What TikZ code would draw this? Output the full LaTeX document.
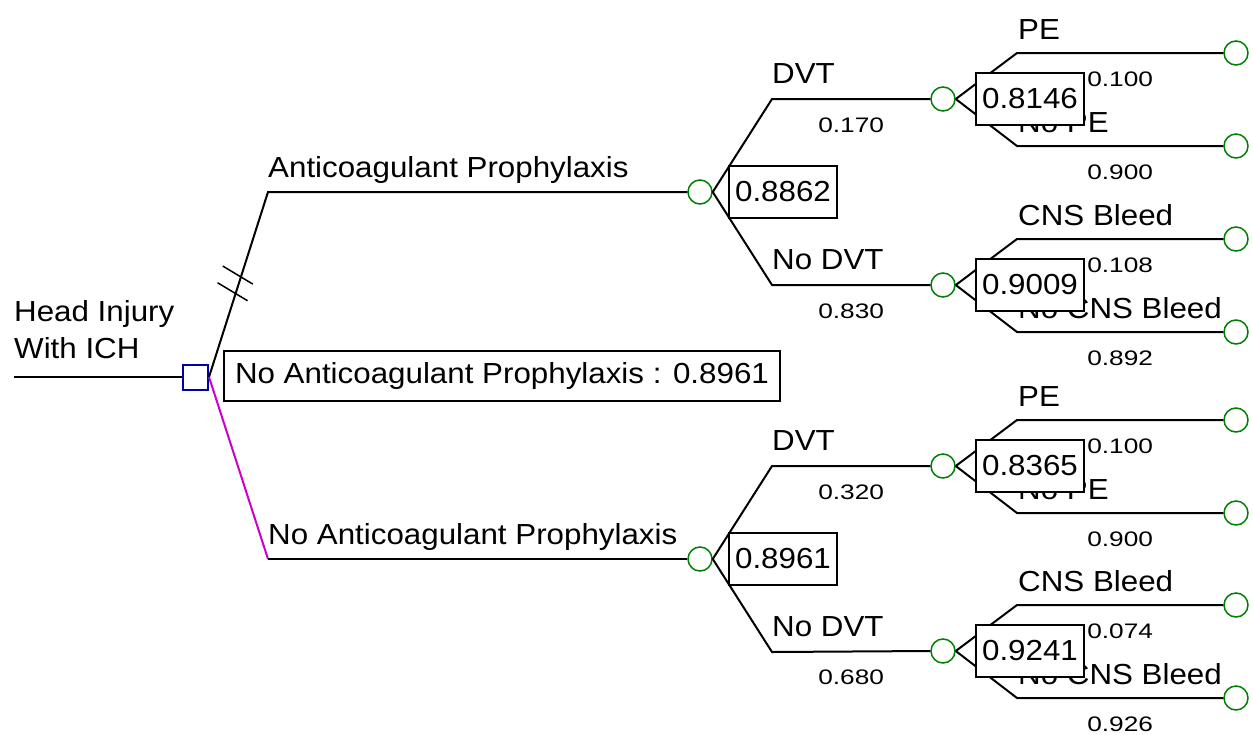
\documentclass[tikz,border=0pt]{standalone}
\usepackage{fontspec}
\setmainfont{Liberation Sans}[FakeStretch=1.08]
\newfontfamily\probfont{Liberation Sans}[FakeStretch=1.25]
\usetikzlibrary{calc}

\definecolor{chancegreen}{RGB}{0,128,0}
\definecolor{decblue}{RGB}{0,0,170}
\definecolor{optmagenta}{RGB}{204,0,204}

\tikzset{
  edge/.style={line width=2pt, draw=black},
  pickedge/.style={line width=2pt, draw=optmagenta},
  chance/.style={circle, draw=chancegreen, line width=1.5pt, minimum size=24pt, inner sep=0pt, fill=white},
  decision/.style={rectangle, draw=decblue, line width=2pt, minimum size=25pt, inner sep=0pt, fill=white},
  valbox/.style={rectangle, draw=black, fill=white, line width=2pt, minimum width=108pt, minimum height=52pt, inner sep=0pt, font=\fontsize{29}{34}\selectfont},
  blabel/.style={anchor=base west, inner sep=0pt, font=\fontsize{29}{34}\selectfont},
  plabel/.style={anchor=base, inner sep=0pt, font=\probfont\fontsize{21}{24}\selectfont},
}

% second-level chance node with two terminal outcomes
% #1 name, #2 y, #3 value, #4/#5 upper label/prob, #6/#7 lower label/prob
\newcommand{\outcomepair}[7]{%
  \node[chance] (#1) at (943,#2) {};
  \coordinate (#1u) at (1017,#2-46);
  \coordinate (#1l) at (1017,#2+47);
  \node[chance] (#1ut) at (1236,#2-46) {};
  \node[chance] (#1lt) at (1236,#2+47) {};
  \draw[edge] (#1.east) -- (#1u) -- (#1ut.west);
  \draw[edge] (#1.east) -- (#1l) -- (#1lt.west);
  \node[blabel] (#1ulab) at ($(#1u)+(1,-14)$) {#4};
  \node[plabel] (#1uprob) at ($(#1u)!0.5!(#1ut.west)+(0,33)$) {#5};
  \node[blabel] (#1llab) at ($(#1l)+(1,-14)$) {#6};
  \node[plabel] (#1lprob) at ($(#1l)!0.5!(#1lt.west)+(0,33)$) {#7};
  \node[valbox] (#1val) at (1030,#2) {#3};
}

% first-level chance node with DVT / No DVT branches
% #1 name, #2 y, #3 value, #4 DVT prob, #5 No DVT prob, #6/#7 child names
\newcommand{\dvtsplit}[7]{%
  \coordinate (#1u) at (772,#2-93);
  \coordinate (#1l) at (772,#2+93);
  \draw[edge] (#1.east) -- (#1u) -- (#6.west);
  \draw[edge] (#1.east) -- (#1l) -- (#7.west);
  \node[blabel] (#1ulab) at ($(#1u)+(0,-16)$) {DVT};
  \node[plabel] (#1uprob) at ($(#1u)!0.5!(#6.west)+(0,33)$) {#4};
  \node[blabel] (#1llab) at ($(#1l)+(0,-16)$) {No DVT};
  \node[plabel] (#1lprob) at ($(#1l)!0.5!(#7.west)+(0,33)$) {#5};
  \node[valbox] (#1val) at (783,#2) {#3};
}

\begin{document}
\begin{tikzpicture}[x=1pt,y=-1pt]
\path[use as bounding box, fill=white] (0,0) rectangle (1253,734);

% root decision
\coordinate (start) at (14,377);
\node[decision] (root) at (195.5,377) {};
\draw[edge] (start) -- (root.west);
\node[blabel] (title1) at (14,321) {Head Injury};
\node[blabel] (title2) at (14,358) {With ICH};

% strategy branches
\coordinate (dA) at (268,192);
\coordinate (dN) at (268,559);
\node[chance] (cA) at (700,192) {};
\node[chance] (cN) at (700,559) {};
\draw[edge] (root.east) -- (dA) -- (cA.west);
\draw[pickedge] (root.east) -- (dN);
\draw[edge] (dN) -- (cN.west);
\node[blabel] (labA) at (268,177) {Anticoagulant Prophylaxis};
\node[blabel] (labN) at (268,544) {No Anticoagulant Prophylaxis};

% pruned-branch marks
\draw[line width=1.5pt] ($(root.east)!0.54!(dA)$) ++(-18,-11) -- ++(30,18);
\draw[line width=1.5pt] ($(root.east)!0.45!(dA)$) ++(-18,-11) -- ++(30,18);

% outcome subtrees
\outcomepair{pA}{99}{0.8146}{PE}{0.100}{No PE}{0.900}
\outcomepair{bA}{285}{0.9009}{CNS Bleed}{0.108}{No CNS Bleed}{0.892}
\outcomepair{pN}{466}{0.8365}{PE}{0.100}{No PE}{0.900}
\outcomepair{bN}{651}{0.9241}{CNS Bleed}{0.074}{No CNS Bleed}{0.926}

\dvtsplit{cA}{192}{0.8862}{0.170}{0.830}{pA}{bA}
\dvtsplit{cN}{559}{0.8961}{0.320}{0.680}{pN}{bN}

% optimal strategy
\node[valbox, minimum width=556pt, minimum height=50pt] (best) at (502,376) {No Anticoagulant Prophylaxis : 0.8961};
\end{tikzpicture}
\end{document}
